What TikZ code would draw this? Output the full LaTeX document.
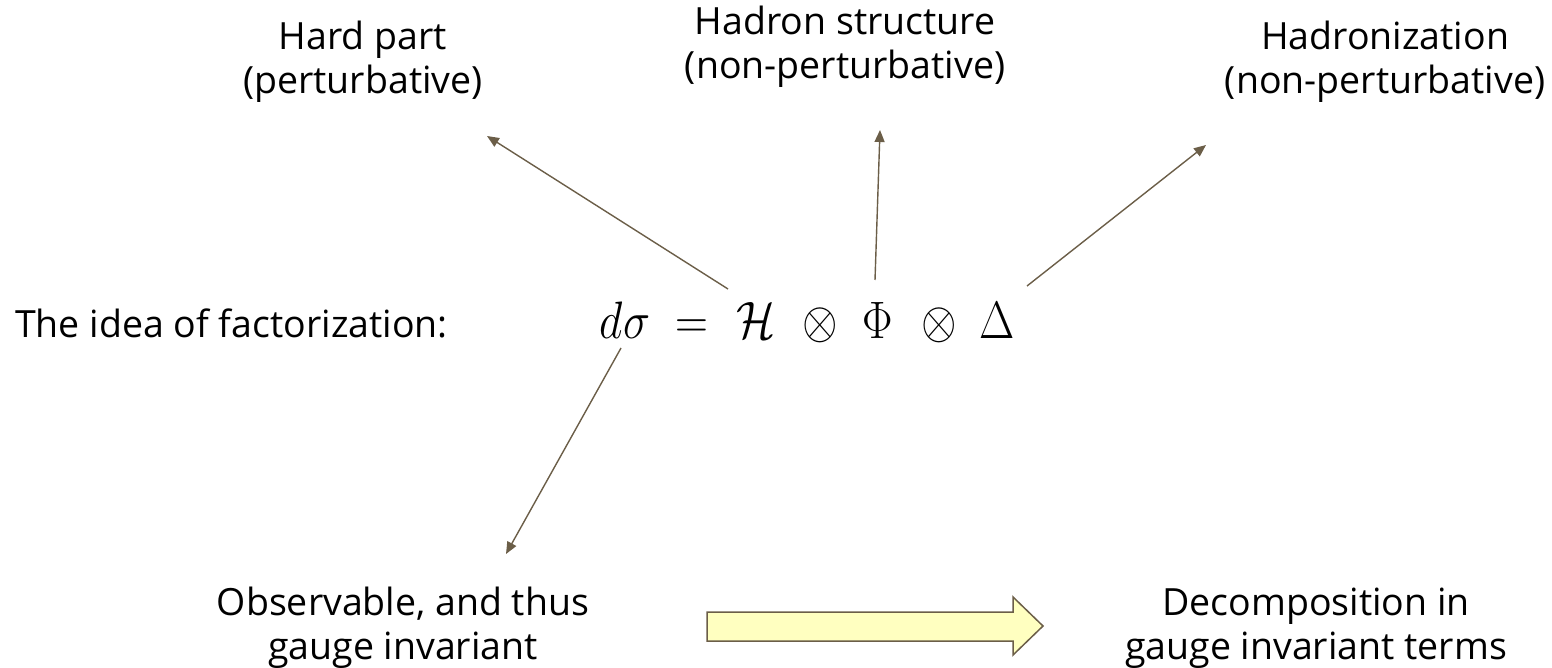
\documentclass[tikz,border=0pt]{standalone}
\usepackage{amsmath}
\usepackage{graphicx}
\usepackage{fontspec}
\setmainfont{Open Sans}
\usetikzlibrary{arrows.meta}
\definecolor{arrowc}{HTML}{6B5E48}
\definecolor{blockfill}{HTML}{FFFFC0}
\newcommand{\bigmath}[1]{\scalebox{2.2}[2.54]{\fontsize{20.74}{25}\selectfont$#1$}}
\tikzset{
  lbl/.style={align=center, anchor=base, inner sep=0pt, font=\fontsize{37.5}{44}\selectfont},
  sym/.style={anchor=base, inner sep=0pt},
  conn/.style={draw=arrowc, line width=1.4pt, -{Triangle[length=12pt,width=10pt]}},
  blockarrow/.style={draw=arrowc, fill=blockfill, line width=1.5pt, line join=miter}
}
\begin{document}
\begin{tikzpicture}[x=1pt,y=-1pt]
\useasboundingbox (0,0) rectangle (1552,668);
% labels (base anchor = baseline of last line)
\node[lbl] (hard) at (363,94) {Hard part\\(perturbative)};
\node[lbl] (struct) at (845,79) {Hadron structure\\(non-perturbative)};
\node[lbl] (hadr) at (1385,94) {Hadronization\\(non-perturbative)};
\node[lbl, anchor=base west] (idea) at (15,337) {The idea of factorization:};
\node[lbl] (obs) at (403,659) {Observable, and thus\\gauge invariant};
\node[lbl] (dec) at (1316,659) {Decomposition in\\gauge invariant terms};
% formula
\node[sym] (dsig) at (625,338) {\bigmath{d\sigma}};
\node[sym] (eq) at (692,338) {\bigmath{=}};
\node[sym] (H) at (756,338) {\bigmath{\mathcal{H}}};
\node[sym] (ot1) at (820,338) {\bigmath{\otimes}};
\node[sym] (Phi) at (878,338) {\bigmath{\Phi}};
\node[sym] (ot2) at (939,338) {\bigmath{\otimes}};
\node[sym] (Delta) at (997,338) {\bigmath{\Delta}};
% connector endpoints
\coordinate (hS) at (728,289);
\coordinate (hE) at (487,136);
\coordinate (sS) at (875,280);
\coordinate (sE) at (880,130);
\coordinate (zS) at (1027,286);
\coordinate (zE) at (1206,145);
\coordinate (oS) at (621,348);
\coordinate (oE) at (506,554);
\draw[conn] (hS) -- (hE);
\draw[conn] (sS) -- (sE);
\draw[conn] (zS) -- (zE);
\draw[conn] (oS) -- (oE);
% block arrow
\draw[blockarrow] (707,612) -- (1013,612) -- (1013,597) -- (1043,626) -- (1013,655) -- (1013,641) -- (707,641) -- cycle;
\end{tikzpicture}
\end{document}
